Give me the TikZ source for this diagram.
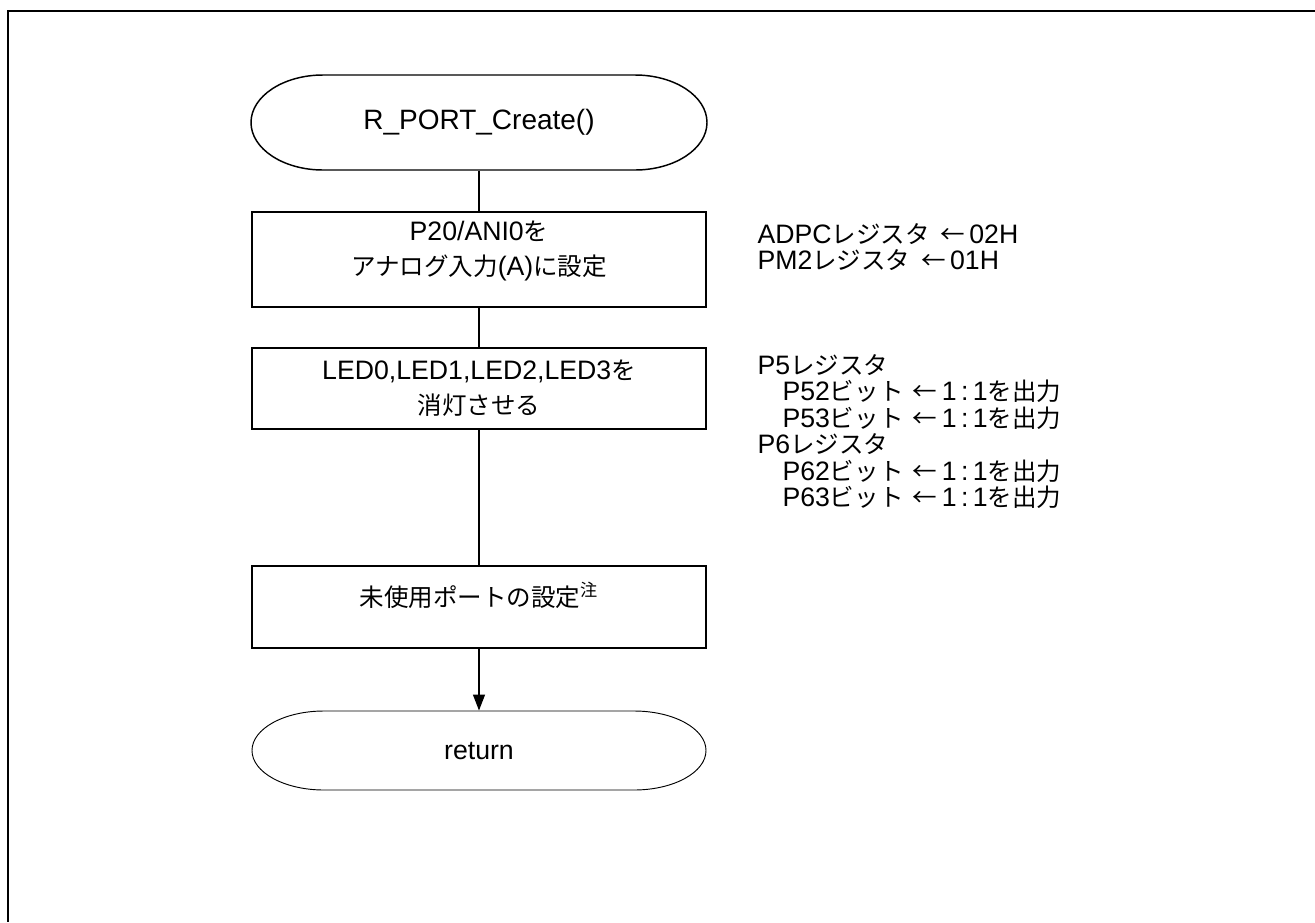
\documentclass[tikz,border=0pt]{standalone}
\usepackage{fontspec}
\setmainfont{Liberation Sans}
\newfontfamily\jp[Scale=0.92]{Noto Sans CJK JP}
\usetikzlibrary{arrows.meta}

\tikzset{every picture/.style={line width=0.75pt}}
\tikzset{procbox/.style={draw, line width=1.1pt, minimum width=340.5pt, inner sep=0pt, align=center},
  termtext/.style={inner sep=0pt, minimum width=342pt},
  regtext/.style={anchor=west, inner sep=0pt}}

\begin{document}
\begin{tikzpicture}[x=0.75pt,y=0.75pt,yscale=-1,xscale=1,font=\fontsize{20}{26}\selectfont]
    \useasboundingbox (0,0) rectangle (1315,922);

    %Shape: Frame
    \draw [line width=1.5pt] (1315,11) -- (8,11) -- (8,922) ;

    %Shape: Terminal start
    \node [termtext, minimum height=71.25pt, font=\fontsize{21}{26}\selectfont] (start) at (479,122.5) {R\_PORT\_Create()};
    \draw [line width=1.1pt] (323,75) -- (635,75) arc[start angle=-90, end angle=90, x radius=72, y radius=47.5] -- (323,170) arc[start angle=90, end angle=270, x radius=72, y radius=47.5] -- cycle ;

    %Shape: Rectangle
    \node [procbox, minimum height=71.25pt, text depth=17pt] (setana) at (479,259.5) {P20/ANI0{\jp を}\\{\jp アナログ入力}(A){\jp に設定}};
    %Shape: Rectangle
    \node [procbox, minimum height=60.75pt] (ledoff) at (479,388.5) {LED0,LED1,LED2,LED3{\jp を}\\{\jp 消灯させる}};
    %Shape: Rectangle
    \node [procbox, minimum height=61.5pt, text depth=19pt] (unused) at (479,607) {{\jp 未使用ポートの設定}\textsuperscript{\jp 注}};

    %Shape: Terminal return
    \node [termtext, minimum height=59.25pt] (ret) at (479,750.5) {return};
    \draw [line width=0.7pt] (324,711) -- (634,711) arc[start angle=-90, end angle=90, x radius=72, y radius=39.5] -- (324,790) arc[start angle=90, end angle=270, x radius=72, y radius=39.5] -- cycle ;

    %Straight Lines
    \draw [line width=1.1pt] (start.south) -- (setana.north) ;
    \draw [line width=1.1pt] (setana.south) -- (ledoff.north) ;
    \draw [line width=1.1pt] (ledoff.south) -- (unused.north) ;
    \draw [line width=1.1pt, -{Triangle[length=12pt,width=9pt]}] (unused.south) -- (ret.north) ;

    % Text Node
    \node [regtext] (adpc) at (757,234) {ADPC{\jp レジスタ}\hspace{8pt}{\jp ←}\,02H};
    % Text Node
    \node [regtext] (pmtwo) at (757,260) {PM2{\jp レジスタ}\hspace{8pt}{\jp ←}\,01H};
    % Text Node
    \node [regtext] (pfive) at (757,365) {P5{\jp レジスタ}};
    % Text Node
    \node [regtext] (pfivetwo) at (782,391.5) {P52{\jp ビット}\hspace{7pt}{\jp ←}\,1\,:\,1{\jp を出力}};
    % Text Node
    \node [regtext] (pfivethree) at (782,418) {P53{\jp ビット}\hspace{7pt}{\jp ←}\,1\,:\,1{\jp を出力}};
    % Text Node
    \node [regtext] (psix) at (757,444.5) {P6{\jp レジスタ}};
    % Text Node
    \node [regtext] (psixtwo) at (782,471) {P62{\jp ビット}\hspace{7pt}{\jp ←}\,1\,:\,1{\jp を出力}};
    % Text Node
    \node [regtext] (psixthree) at (782,497.5) {P63{\jp ビット}\hspace{7pt}{\jp ←}\,1\,:\,1{\jp を出力}};

\end{tikzpicture}
\end{document}
